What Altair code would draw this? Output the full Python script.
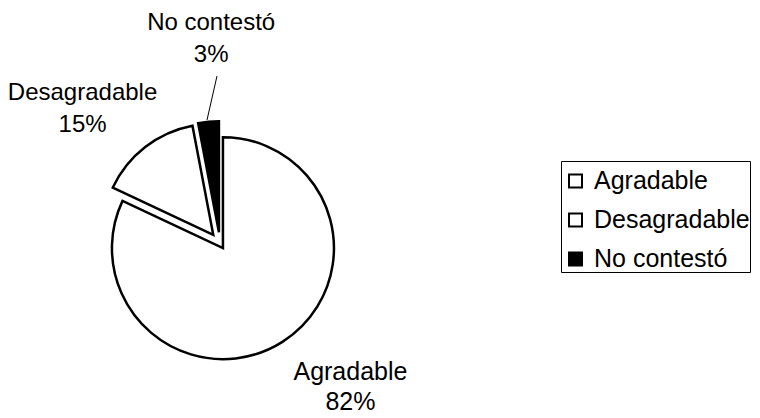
import math
import altair as alt
import pandas as pd

# ---- data ----
categories = ["Agradable", "Desagradable", "No contestó"]
values = [82, 15, 3]

# ---- style ----
fills = ["white", "white", "black"]
explode = {"Agradable": 5.5, "Desagradable": 11, "No contestó": 11.4}
label_radius = {"Agradable": 180, "Desagradable": 190, "No contestó": 200}
# (dx, dy of first line, extra dy of second line)
label_shift = {"Agradable": (34, -15, 30), "Desagradable": (-21, 6.5, 32), "No contestó": (10, -14.5, 32)}
label_size = {"Agradable": 25, "Desagradable": 24, "No contestó": 24}
FONT = "Liberation Sans"
CX, CY, R = 212, 235.5, 111

df = pd.DataFrame({"cat": categories, "value": values})

base = (
    alt.Chart(df)
    .transform_window(end="sum(value)", frame=[None, 0])
    .transform_calculate(
        start="datum.end - datum.value",
        mid="datum.end - datum.value / 2",
        pct="datum.value + '%'",
    )
)

theta_scale = alt.Scale(domain=[0, 100])
color = alt.Color(
    "cat:N",
    scale=alt.Scale(domain=categories, range=fills),
    legend=alt.Legend(
        title=" ",
        titleFontSize=1,
        titlePadding=6.5,
        orient="none",
        legendX=553,
        legendY=153,
        symbolType="square",
        symbolSize=169,
        symbolOffset=2,
        symbolStrokeColor="black",
        symbolStrokeWidth=2,
        labelFontSize=25,
        labelFont=FONT,
        labelColor="black",
        labelOffset=6,
        strokeColor="black",
        fillColor="white",
        padding=0,
        rowPadding=13,
    ),
)

total = sum(values)
layers = []
cum = 0
for c, v in zip(categories, values):
    mid_angle = (cum + v / 2) / total * 2 * math.pi
    cum += v
    d = explode[c]
    ox, oy = d * math.sin(mid_angle), -d * math.cos(mid_angle)
    arc = (
        base.transform_filter(alt.datum.cat == c)
        .mark_arc(outerRadius=R, stroke="black", strokeWidth=2.5, xOffset=ox, yOffset=oy, strokeJoin="miter")
        .encode(
            x=alt.value(CX),
            y=alt.value(CY),
            theta=alt.Theta("start:Q", scale=theta_scale, stack=None),
            theta2=alt.Theta2("end:Q"),
            color=color,
        )
    )
    layers.append(arc)

for c in categories:
    dx, dy, lh = label_shift[c]
    for field, extra in (("cat", 0), ("pct", lh)):
        txt = (
            base.transform_filter(alt.datum.cat == c)
            .mark_text(
                fontSize=label_size[c],
                font=FONT,
                color="black",
                align="center",
                baseline="alphabetic",
                radius=label_radius[c],
                dx=dx,
                dy=dy + extra,
            )
            .encode(
                x=alt.value(CX),
                y=alt.value(CY),
                theta=alt.Theta("mid:Q", scale=theta_scale, stack=None),
                text=alt.Text(f"{field}:N"),
            )
        )
        layers.append(txt)

leader = (
    alt.Chart(pd.DataFrame({"k": [0]}))
    .mark_rule(color="black", strokeWidth=1)
    .encode(x=alt.value(209), y=alt.value(68), x2=alt.value(199), y2=alt.value(112))
)
layers.append(leader)

chart = (
    alt.layer(*layers)
    .properties(width=743, height=410, padding=0, autosize=alt.AutoSizeParams(type="none"))
    .configure_view(strokeWidth=0, stroke="transparent")
)

chart.save("out.html", embed_options={"renderer": "svg", "actions": False})
